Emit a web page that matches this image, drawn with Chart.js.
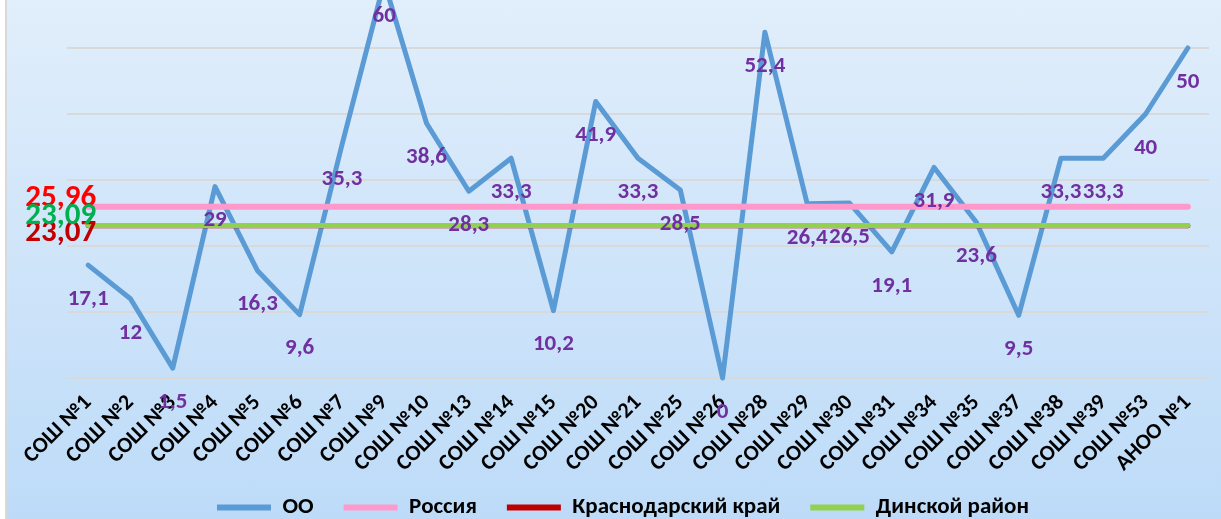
<!DOCTYPE html>
<html lang="ru">
<head>
<meta charset="utf-8">
<title>ОО</title>
<script src="https://cdn.jsdelivr.net/npm/chart.js@4.4.1/dist/chart.umd.min.js"></script>
<style>
  html, body { margin: 0; padding: 0; width: 1221px; height: 519px; overflow: hidden; background: #ffffff; }
  #frame {
    position: absolute; left: 5px; top: 0; width: 1240px; height: 519px;
    border-left: 2px solid #D9D9D9;
    background: linear-gradient(to bottom, #E1EEFB 0%, #BDDBF8 100%);
  }
  #wrap { position: absolute; left: 7px; top: -30px; width: 1234px; height: 559px; }
</style>
</head>
<body>
<div id="frame"></div>
<div id="wrap"><canvas id="chart"></canvas></div>
<script>
// Школы (ось X)
const schools = ['СОШ №1', 'СОШ №2', 'СОШ №3', 'СОШ №4', 'СОШ №5', 'СОШ №6', 'СОШ №7', 'СОШ №9',
  'СОШ №10', 'СОШ №13', 'СОШ №14', 'СОШ №15', 'СОШ №20', 'СОШ №21', 'СОШ №25', 'СОШ №26',
  'СОШ №28', 'СОШ №29', 'СОШ №30', 'СОШ №31', 'СОШ №34', 'СОШ №35', 'СОШ №37', 'СОШ №38',
  'СОШ №39', 'СОШ №53', 'АНОО №1'];

// Значения ОО
const ooValues = [17.1, 12, 1.5, 29, 16.3, 9.6, 35.3, 60, 38.6, 28.3, 33.3, 10.2, 41.9, 33.3,
  28.5, 0, 52.4, 26.4, 26.5, 19.1, 31.9, 23.6, 9.5, 33.3, 33.3, 40, 50];

// Уровни сравнения
const russiaValue = 25.96;
const krasnodarValue = 23.07;
const dinskoyValue = 23.09;

const seriesNames = ['ОО', 'Россия', 'Краснодарский край', 'Динской район'];

// Шкала Y
const yMin = 0;
const yMax = 60;
const yStep = 10;

const FONT = 'Carlito, Lato, sans-serif';

// число с запятой
function fmt(v) {
  return String(v).replace('.', ',');
}

// Подписи значений
const valueLabels = {
  id: 'valueLabels',
  afterDatasetsDraw(chart) {
    const ctx = chart.ctx;
    ctx.save();
    ctx.textAlign = 'center';
    ctx.textBaseline = 'middle';
    ctx.font = 'bold 23px ' + FONT;
    ctx.fillStyle = '#7030A0';
    chart.getDatasetMeta(0).data.forEach((pt, i) => {
      ctx.fillText(fmt(ooValues[i]), pt.x, pt.y + 34);
    });

    // подписи уровней слева
    const refs = [
      { index: 1, value: russiaValue, color: '#FF0000', dy: -8 },
      { index: 2, value: krasnodarValue, color: '#C00000', dy: 8 },
      { index: 3, value: dinskoyValue, color: '#00B050', dy: -9 }
    ];
    ctx.textAlign = 'right';
    ctx.font = 'bold 31px ' + FONT;
    refs.forEach(r => {
      const pt = chart.getDatasetMeta(r.index).data[0];
      ctx.fillStyle = r.color;
      ctx.fillText(fmt(r.value), pt.x + 8, pt.y + r.dy);
    });
    ctx.restore();
  }
};

const ctx = document.getElementById('chart');

new Chart(ctx, {
  type: 'line',
  data: {
    labels: schools,
    datasets: [
      {
        label: seriesNames[0],
        data: ooValues,
        borderColor: '#5B9BD5',
        backgroundColor: '#5B9BD5',
        borderWidth: 5,
        pointRadius: 0,
        borderJoinStyle: 'round',
        borderCapStyle: 'round',
        clip: false,
        order: 4
      },
      {
        label: seriesNames[1],
        data: schools.map(() => russiaValue),
        borderColor: '#FF99CC',
        backgroundColor: '#FF99CC',
        borderWidth: 6,
        pointRadius: 0,
        borderCapStyle: 'round',
        order: 3
      },
      {
        label: seriesNames[2],
        data: schools.map(() => krasnodarValue),
        borderColor: '#C00000',
        backgroundColor: '#C00000',
        borderWidth: 5,
        pointRadius: 0,
        borderCapStyle: 'round',
        order: 2
      },
      {
        label: seriesNames[3],
        data: schools.map(() => dinskoyValue),
        borderColor: '#92D050',
        backgroundColor: '#92D050',
        borderWidth: 5,
        pointRadius: 0,
        borderCapStyle: 'round',
        order: 1
      }
    ]
  },
  options: {
    responsive: true,
    maintainAspectRatio: false,
    animation: false,
    layout: {
      padding: { left: 30, right: 32, top: 12, bottom: 0 }
    },
    plugins: {
      tooltip: { enabled: false },
      legend: {
        position: 'bottom',
        labels: {
          boxWidth: 54,
          boxHeight: 6,
          padding: 30,
          color: '#000000',
          font: { family: FONT, size: 23, weight: 'bold' },
          sort: (a, b) => a.datasetIndex - b.datasetIndex,
          generateLabels(chart) {
            const items = Chart.defaults.plugins.legend.labels.generateLabels(chart);
            items.forEach(it => {
              it.lineWidth = 0;
              it.fillStyle = it.strokeStyle;
            });
            return items;
          }
        }
      }
    },
    scales: {
      x: {
        offset: true,
        grid: { display: false },
        border: { display: false },
        afterFit(scale) {
          scale.height = 88;
          // подписи могут заходить в зону легенды, как в оригинале
          scale._computeLabelArea = () => undefined;
        },
        ticks: {
          autoSkip: false,
          minRotation: 45,
          maxRotation: 45,
          padding: 4,
          color: '#000000',
          font: { family: FONT, size: 22, weight: 'bold' }
        }
      },
      y: {
        min: yMin,
        max: yMax,
        border: { display: false },
        afterFit(scale) { scale.width = 30; },
        grid: { color: '#D9D9D9', lineWidth: 2, drawTicks: false },
        ticks: { display: false, stepSize: yStep }
      }
    }
  },
  plugins: [valueLabels]
});
</script>
</body>
</html>
